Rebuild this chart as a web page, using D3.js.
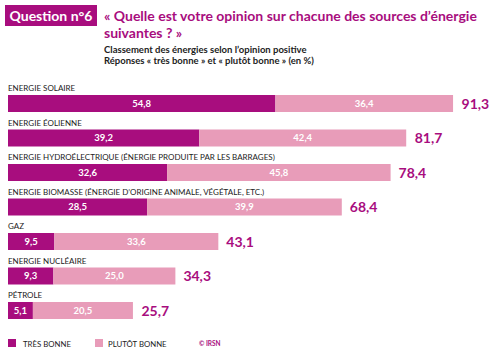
<!DOCTYPE html>
<html><head><meta charset="utf-8">
<script src="https://cdn.jsdelivr.net/npm/d3@7"></script>
<style>body{margin:0;background:#fff}svg{display:block}</style>
</head><body>
<script>
const categories = ["ENERGIE SOLAIRE","ENERGIE ÉOLIENNE","ENERGIE HYDROÉLECTRIQUE (ÉNERGIE PRODUITE PAR LES BARRAGES)","ENERGIE BIOMASSE (ÉNERGIE D’ORIGINE ANIMALE, VÉGÉTALE, ETC.)","GAZ","ENERGIE NUCLÉAIRE","PÉTROLE"];
const tresBonne = [54.8,39.2,32.6,28.5,9.5,9.3,5.1];
const plutotBonne = [36.4,42.4,45.8,39.9,33.6,25.0,20.5];
const totals = [91.3,81.7,78.4,68.4,43.1,34.3,25.7];
const seriesNames = ["TRÈS BONNE","PLUTÔT BONNE"];

const W=497,H=357;
const dark="#A80D7E", light="#E89CB9";
const fmt = v => v.toFixed(1).replace(".", ",");
const svg=d3.select("body").append("svg").attr("width",W).attr("height",H);
const font="Lato, 'Open Sans', sans-serif";

// header
svg.append("rect").attr("x",5).attr("y",5).attr("width",92).attr("height",21).attr("fill",dark);
svg.append("text").attr("x",51).attr("y",20.5).attr("text-anchor","middle").attr("fill","#fff")
  .attr("font-family",font).attr("font-weight",700).attr("font-size",14).text("Question n°6");
const titleStyle = s => s.attr("fill",dark).attr("font-family",font).attr("font-weight",700).attr("font-size",14);
titleStyle(svg.append("text").attr("x",104).attr("y",21)).text("« Quelle est votre opinion sur chacune des sources d’énergie");
titleStyle(svg.append("text").attr("x",104).attr("y",37.5)).text("suivantes ? »");
const st=svg.append("text").attr("fill","#222").attr("font-family",font).attr("font-weight",700).attr("font-size",9.5);
st.append("tspan").attr("x",104).attr("y",53).text("Classement des énergies selon l’opinion positive");
st.append("tspan").attr("x",104).attr("y",63.5).text("Réponses « très bonne » et « plutôt bonne » (en %)");

const x=d3.scaleLinear().domain([0,100]).range([8,496]);
const y=d3.scaleBand().domain(categories).range([95,95+34.5*7]).paddingInner(0).paddingOuter(0);
const bh=17;

const g=svg.append("g");
categories.forEach((c,i)=>{
  const y0=y(c);
  g.append("text").attr("x",8).attr("y",y0-4).attr("font-family",font).attr("font-size",8).attr("fill","#222").text(c);
  g.append("rect").attr("x",x(0)).attr("y",y0).attr("width",x(tresBonne[i])-x(0)).attr("height",bh).attr("fill",dark);
  g.append("rect").attr("x",x(tresBonne[i])).attr("y",y0).attr("width",x(tresBonne[i]+plutotBonne[i])-x(tresBonne[i])).attr("height",bh).attr("fill",light);
  g.append("text").attr("x",(x(0)+x(tresBonne[i]))/2).attr("y",y0+bh/2+3.4).attr("text-anchor","middle")
    .attr("fill","#fff").attr("font-family",font).attr("font-weight",700).attr("font-size",9.5).text(fmt(tresBonne[i]));
  g.append("text").attr("x",(x(tresBonne[i])+x(tresBonne[i]+plutotBonne[i]))/2).attr("y",y0+bh/2+3.4).attr("text-anchor","middle")
    .attr("fill","#fff").attr("font-family",font).attr("font-weight",700).attr("font-size",9.5).text(fmt(plutotBonne[i]));
  g.append("text").attr("x",x(totals[i])+8).attr("y",y0+bh/2+5).attr("fill",dark)
    .attr("font-family",font).attr("font-weight",700).attr("font-size",14).text(fmt(totals[i]));
});

// legend
const lg=svg.append("g");
[[8,dark,23],[95,light,108]].forEach(([lx,col,tx],i)=>{
  lg.append("rect").attr("x",lx).attr("y",339).attr("width",8).attr("height",8).attr("fill",col);
  lg.append("text").attr("x",tx).attr("y",346.5).attr("font-family",font).attr("font-size",7.8).attr("fill","#222").text(seriesNames[i]);
});
lg.append("text").attr("x",199).attr("y",345.5).attr("font-family",font).attr("font-weight",700).attr("font-size",6.5).attr("fill",dark).text("© IRSN");
</script>
</body></html>
